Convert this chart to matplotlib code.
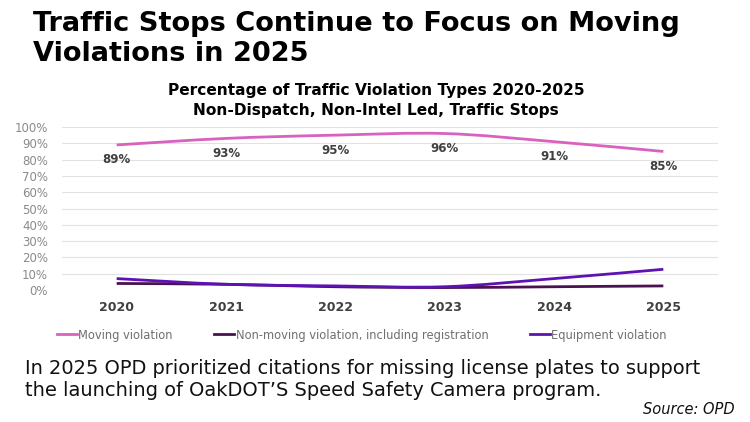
import matplotlib
matplotlib.use("Agg")
import matplotlib.pyplot as plt
from matplotlib.ticker import PercentFormatter
from matplotlib.path import Path
from matplotlib.patches import PathPatch
from matplotlib.lines import Line2D

years = ["2020", "2021", "2022", "2023", "2024", "2025"]
moving = [89, 93, 95, 96, 91, 85]
non_moving = [4, 3.5, 2, 1.5, 2, 2.5]
equipment = [7, 3.5, 2.5, 2, 7, 12.7]
yticks = list(range(0, 101, 10))

c_moving = "#D862BE"
c_non = "#4A1250"
c_equip = "#5E12B4"

plt.rcParams['font.family'] = ['DejaVu Sans']

fig = plt.figure(figsize=(7.5, 4.22), dpi=100)
ax = fig.add_axes([62/750, 1-290/422, (718-62)/750, (290-127)/422])

x = list(range(len(years)))


def smooth_path(xs, ys, k=1/6):
    # Catmull-Rom style bezier through the data points (Excel "smoothed line")
    verts = [(xs[0], ys[0])]
    codes = [Path.MOVETO]
    n = len(xs)
    for i in range(n - 1):
        p0 = (xs[max(i - 1, 0)], ys[max(i - 1, 0)])
        p1 = (xs[i], ys[i])
        p2 = (xs[i + 1], ys[i + 1])
        p3 = (xs[min(i + 2, n - 1)], ys[min(i + 2, n - 1)])
        c1 = (p1[0] + (p2[0] - p0[0]) * k, p1[1] + (p2[1] - p0[1]) * k)
        c2 = (p2[0] - (p3[0] - p1[0]) * k, p2[1] - (p3[1] - p1[1]) * k)
        verts += [c1, c2, p2]
        codes += [Path.CURVE4] * 3
    return Path(verts, codes)


series = [(moving, c_moving, "Moving violation"),
          (non_moving, c_non, "Non-moving violation, including registration"),
          (equipment, c_equip, "Equipment violation")]
handles = []
for vals, col, lab in series:
    ax.add_patch(PathPatch(smooth_path(x, vals), fill=False, edgecolor=col, lw=2,
                           capstyle='butt'))
    handles.append(Line2D([], [], color=col, lw=2, label=lab))

for xi, v in zip(x, moving):
    ax.annotate(f"{v}%", (xi, v), xytext=(0, -15), textcoords='offset pixels',
                ha='center', va='center', fontsize=8.5, fontweight='bold', color='#404040')

ax.set_xlim(-0.5, 5.5)
ax.set_ylim(0, 100)
ax.set_yticks(yticks)
ax.yaxis.set_major_formatter(PercentFormatter(decimals=0))
ax.set_xticks(x)
ax.set_xticklabels(years, fontweight='bold', color='#404040', fontsize=9)
ax.tick_params(axis='y', labelsize=8.5, colors='#8a8a8a', length=0, pad=10)
ax.tick_params(axis='x', length=0, pad=8)
ax.grid(axis='y', color='#e2e2e2', lw=0.8)
ax.set_axisbelow(True)
for s in ax.spines.values():
    s.set_visible(False)

leg = fig.legend(handles=handles, loc='center', bbox_to_anchor=(362/750, 1-335/422), ncol=3,
                 frameon=False, fontsize=8.3, handlelength=1.7, handletextpad=0.15,
                 columnspacing=3.6)
for t in leg.get_texts():
    t.set_color('#707070')

t1 = fig.text(33/750, 1-24/422, "Traffic Stops Continue to Focus on Moving",
              ha='left', va='center', fontsize=20, fontweight='bold', color='black')
t1b = fig.text(33/750, 1-54/422, "Violations in 2025",
               ha='left', va='center', fontsize=20, fontweight='bold', color='black')
s1 = fig.text(376/750, 1-90/422, "Percentage of Traffic Violation Types 2020-2025",
              ha='center', va='center', fontsize=11, fontweight='bold', color='black')
s2 = fig.text(376/750, 1-111/422, "Non-Dispatch, Non-Intel Led, Traffic Stops",
              ha='center', va='center', fontsize=11, fontweight='bold', color='black')
b1 = fig.text(25/750, 1-369/422, "In 2025 OPD prioritized citations for missing license plates to support",
              ha='left', va='center', fontsize=13, color='#111111')
b2 = fig.text(25/750, 1-391/422, "the launching of OakDOT\u2019S Speed Safety Camera program.",
              ha='left', va='center', fontsize=13, color='#111111')
src = fig.text(735/750, 1-410/422, "Source: OPD", ha='right', va='center', fontsize=10.5,
               style='italic', color='#111111')

# fit text widths to the reference layout
fig.canvas.draw()
r = fig.canvas.get_renderer()
targets = [(t1, 647), (s1, 417), (b1, 675), (src, 92)]
for t, w in targets:
    cur = t.get_window_extent(r).width
    t.set_fontsize(t.get_fontsize() * w / cur)
t1b.set_fontsize(t1.get_fontsize())
s2.set_fontsize(s1.get_fontsize())
b2.set_fontsize(b1.get_fontsize())

fig.savefig("out.png", dpi=100)
